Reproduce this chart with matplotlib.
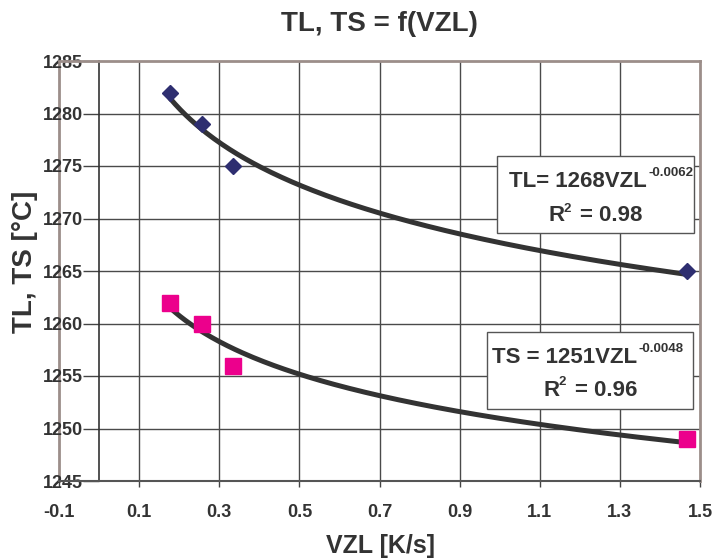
import numpy as np
import matplotlib
matplotlib.use("Agg")
import matplotlib.pyplot as plt
from matplotlib.patches import Rectangle

plt.rcParams['font.family'] = ['Liberation Sans', 'DejaVu Sans']
plt.rcParams['font.weight'] = 'bold'

# data
vzl = [0.177, 0.257, 0.334, 1.467]
tl = [1282, 1279, 1275, 1265]
ts = [1262, 1260, 1256, 1249]
x_ticks = [-0.1, 0.1, 0.3, 0.5, 0.7, 0.9, 1.1, 1.3, 1.5]
y_ticks = [1245, 1250, 1255, 1260, 1265, 1270, 1275, 1280, 1285]
title = "TL, TS = f(VZL)"
xlabel = "VZL [K/s]"
ylabel = "TL, TS [°C]"
eq_tl = ("TL= 1268VZL", "-0.0062", "0.98")
eq_ts = ("TS = 1251VZL", "-0.0048", "0.96")

fig = plt.figure(figsize=(7.14, 5.59), dpi=100)
ax = fig.add_axes([59/714, 1-481/559, 641/714, 420/559])
ax.set_xlim(-0.1, 1.5)
ax.set_ylim(1245, 1285)

grid_c = '#4a4a4a'
border_c = '#9c8e8a'
txt_c = '#333333'

# gridlines
for yv in y_ticks[1:-1]:
    ax.plot([0, 1.5], [yv, yv], color=grid_c, lw=1.0, zorder=1)
for xv in x_ticks[1:-1]:
    ax.plot([xv, xv], [1245, 1285], color=grid_c, lw=1.0, zorder=1)

# power trendlines fitted from data
x = np.array(vzl)
xs = np.linspace(x.min(), x.max(), 200)
for ys in (tl, ts):
    b, lna = np.polyfit(np.log(x), np.log(np.array(ys, float)), 1)
    ax.plot(xs, np.exp(lna) * xs ** b, color='#333333', lw=3.6,
            solid_capstyle='round', zorder=3)

ax.plot(vzl, tl, linestyle='none', marker='D', ms=8.3, color='#2e2e70', zorder=4)
ax.plot(vzl, ts, linestyle='none', marker='s', ms=11, color='#ec008c', zorder=4)

# spines
ax.spines['left'].set_position(('data', 0))
ax.spines['left'].set_color('#333333')
ax.spines['left'].set_linewidth(1.2)
ax.spines['bottom'].set_color('#555555')
ax.spines['bottom'].set_linewidth(1.5)
for s in ('top', 'right'):
    ax.spines[s].set_color(border_c)
    ax.spines[s].set_linewidth(2)
ax.plot([-0.1, -0.1], [1245, 1285], color=border_c, lw=2, clip_on=False, zorder=0.5)

ax.set_xticks(x_ticks)
ax.set_xticklabels([f"{v:g}" for v in x_ticks])
ax.set_yticks(y_ticks)
ax.set_yticklabels([str(v) for v in y_ticks])
ax.tick_params(axis='x', direction='out', length=4.3, width=1, color='#444444',
               pad=12, labelsize=13, labelcolor=txt_c)
ax.tick_params(axis='y', direction='out', length=11.5, width=1, color='#444444',
               pad=0, labelsize=13, labelcolor=txt_c)
for lab in ax.get_xticklabels() + ax.get_yticklabels():
    lab.set_fontweight('bold')

fig.text(379/714, 1 - 24/559, title, ha='center', va='center', fontsize=20,
         fontweight='bold', color=txt_c)
fig.text(380/714, 1 - 546/559, xlabel, ha='center', va='center', fontsize=18,
         fontweight='bold', color=txt_c)
fig.text(25.5/714, 1 - 262/559, ylabel, ha='center', va='center', fontsize=20,
         fontweight='bold', color=txt_c, rotation=90)

# equation boxes
def t(xf, yf, s, size, ha):
    ax.text(xf, yf, s, transform=ax.transAxes, ha=ha, va='baseline',
            fontsize=size, color=txt_c, fontweight='bold', zorder=6)

def eq_box(box, eq, j1, b1, sb1, r_right, two_left, eq_left, b2, sb2):
    x0, x1, y0, y1 = box
    ax.add_patch(Rectangle((x0, y0), x1 - x0, y1 - y0, transform=ax.transAxes,
                           facecolor='white', edgecolor='#555555', lw=1.0, zorder=5))
    t(j1, b1, eq[0], 16, 'right')
    t(j1 + 0.002, sb1, eq[1], 9.5, 'left')
    t(r_right, b2, "R", 16, 'right')
    t(two_left, sb2, "2", 9.5, 'left')
    t(eq_left, b2, "= " + eq[2], 16, 'left')

eq_box((0.683, 0.991, 0.591, 0.7745), eq_tl, 0.917, 0.7007, 0.726,
       0.7894, 0.7878, 0.8128, 0.620, 0.641)
eq_box((0.668, 0.989, 0.171, 0.355), eq_ts, 0.902, 0.280, 0.308,
       0.7816, 0.780, 0.805, 0.202, 0.2286)

fig.savefig("out.png", dpi=100)
